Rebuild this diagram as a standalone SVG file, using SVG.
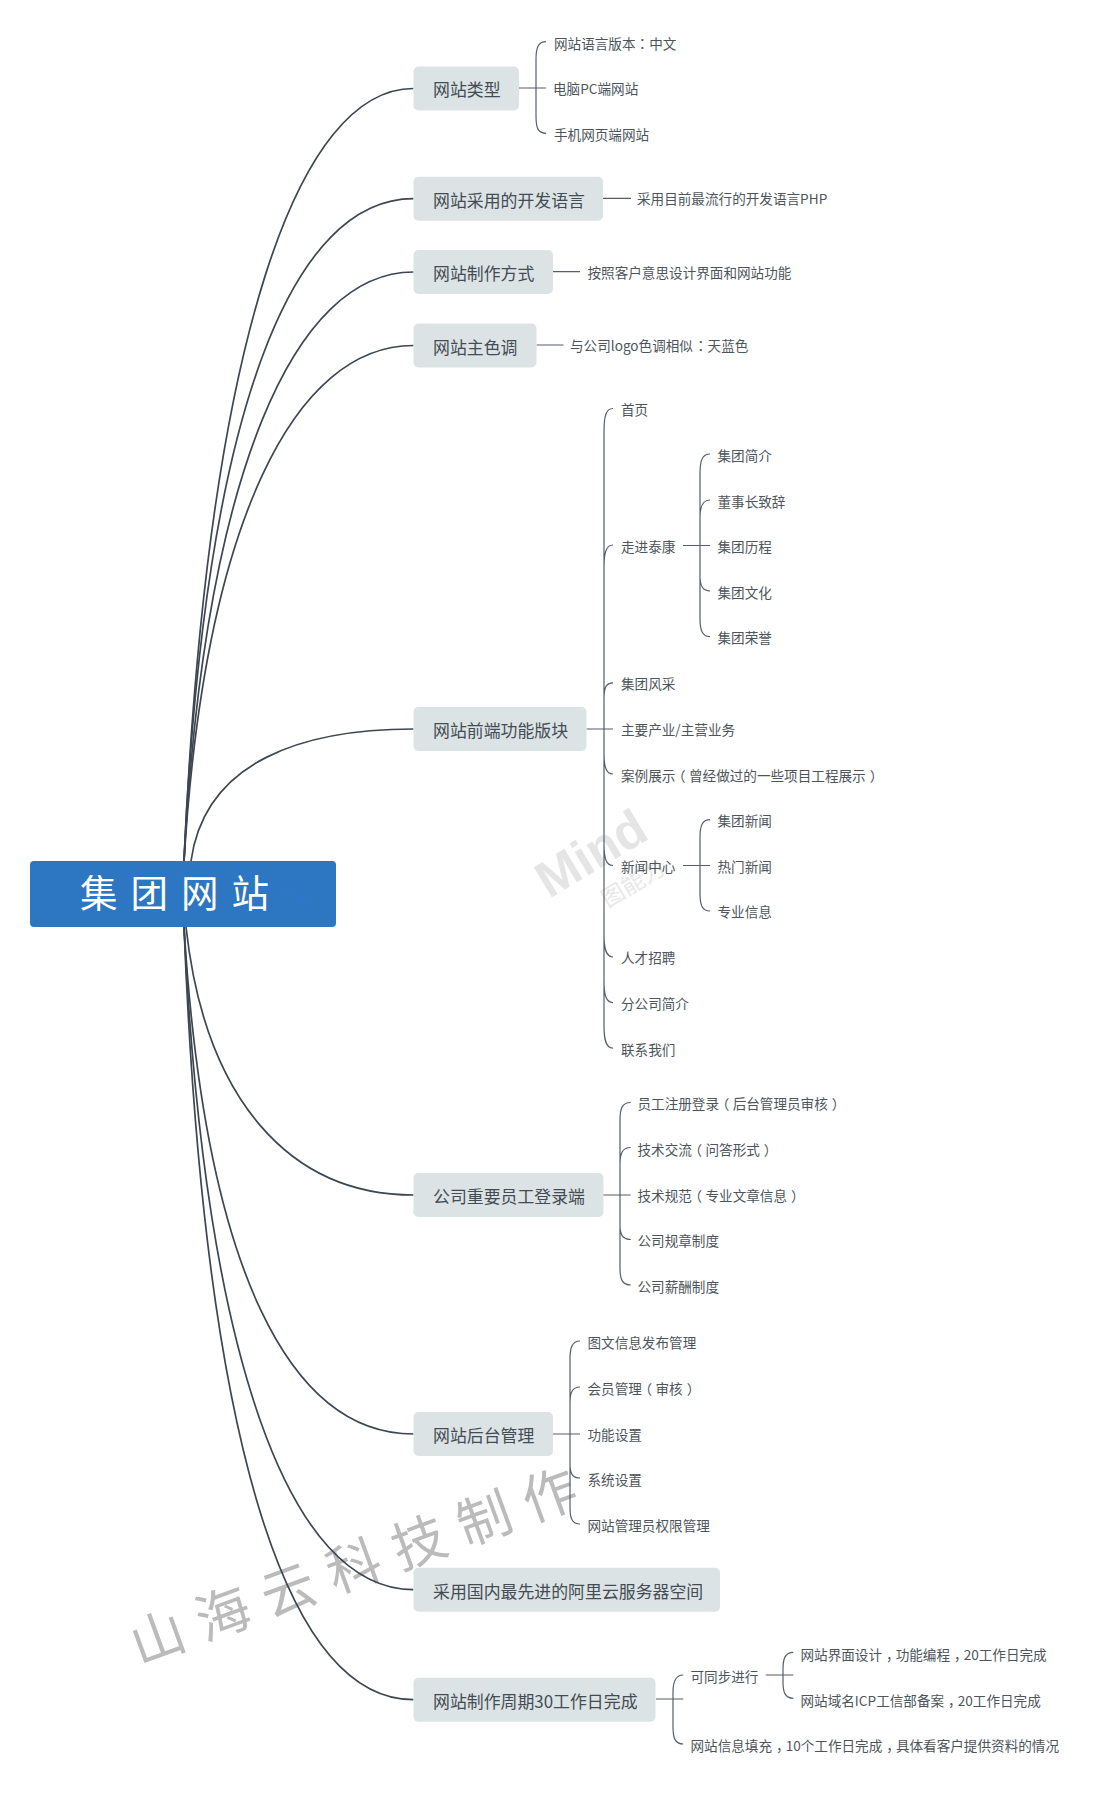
<svg xmlns="http://www.w3.org/2000/svg" width="1100" height="1799" viewBox="0 0 1100 1799">
<style>
text{font-family:"Noto Sans CJK SC","Noto Sans",sans-serif;}
.n{fill:#dce3e5;}
.nt{font-size:16.9px;fill:#434c54;}
.ct{font-size:13.6px;fill:#4d555c;}
.p{font-family:"Noto Sans CJK TC","Noto Sans",sans-serif;}
.m{fill:none;stroke:#3d4651;stroke-width:1.7;}
.b{fill:none;stroke:#565f68;stroke-width:1.2;}
</style>
<rect width="1100" height="1799" fill="#fff"/>
<g id="watermarks">
<text x="549" y="899" transform="rotate(-31 549 899)" style="font-family:'Liberation Sans',sans-serif;font-weight:bold;font-size:51px;fill:#e5e5e5">Mind</text>
<text x="607.500" y="908" transform="rotate(-31 607.500 908)" style="font-size:23px;fill:#e8e8e8">图能力</text>
<text x="139" y="1665" transform="rotate(-20 139 1665)" style="font-size:54px;letter-spacing:15.500px;fill:#bbbbbb">山海云科技制作</text>
</g>
<g id="connectors">
<path class="m" d="M184 861C208 330 300 88.500 413.500 88.500"/>
<path class="m" d="M184 861C205 400 295 198.700 413.500 198.700"/>
<path class="m" d="M184 861C205 470 295 272 413.500 272"/>
<path class="m" d="M184 861C205 520 295 345.500 413.500 345.500"/>
<path class="m" d="M191 861C205 760 305 729 413.500 729"/>
<path class="m" d="M186 927C205 1100 290 1195 413.500 1195"/>
<path class="m" d="M184 927C205 1270 290 1434 413.500 1434"/>
<path class="m" d="M184 927C205 1360 290 1589.700 413.500 1589.700"/>
<path class="m" d="M184 927C205 1458 290 1699.700 413.500 1699.700"/>
<path class="b" d="M519 88H546M536 88V60C536 48 538 41.700 546 41.700M536 88V116C536 128 538 133.300 546 133.300"/>
<path class="b" d="M603 198.300H631M553 271.700H580M536.500 345H563.500"/>
<path class="b" d="M586.500 729H613M604 729V432C604 416 606 408.500 613 408.500M604 729V568C604 553 606 545 613 545M604 729V698C604 688 606 682.800 613 682.800M604 729V753C604 767 606 774 613 774M604 729V844C604 858 606 865.500 613 865.500M604 729V935C604 949 606 957 613 957M604 729V981C604 995 606 1002.600 613 1002.600M604 729V1026C604 1040 606 1048.200 613 1048.200"/>
<path class="b" d="M683 545.500H710M700 545.500V474C700 461 702 454 710 454M700 545.500V517C700 507 702 500 710 500M700 545.500V576C700 585 702 591 710 591M700 545.500V618C700 630 702 636.700 710 636.700"/>
<path class="b" d="M683 865.500H710M700 865.500V838C700 826 702 819.700 710 819.700M700 865.500V893C700 905 702 911 710 911"/>
<path class="b" d="M603 1195H630.700M620 1195V1120C620 1109 622 1102.500 630.700 1102.500M620 1195V1164C620 1154 622 1147.500 630.700 1147.500M620 1195V1225C620 1234 622 1239.500 630.700 1239.500M620 1195V1268C620 1279 622 1285 630.700 1285"/>
<path class="b" d="M553 1434H580M570 1434V1359C570 1348 572 1341 580 1341M570 1434V1403C570 1393 572 1387 580 1387M570 1434V1464C570 1473 572 1478 580 1478M570 1434V1508C570 1518 572 1524 580 1524"/>
<path class="b" d="M656 1699H683.300M673 1699V1692C673 1682 675 1675 683.300 1675M673 1699V1727C673 1738 675 1744 683.300 1744"/>
<path class="b" d="M765.700 1675H793.300M783 1675V1669C783 1659 785 1652.300 793.300 1652.300M783 1675V1682C783 1692 785 1698.300 793.300 1698.300"/>
</g>
<g id="root"><rect x="30" y="861" width="306" height="66" rx="4" fill="#2d76c2"/>
<text x="80" y="907" style="font-size:37.500px;letter-spacing:13px;fill:#fff">集团网站</text>
<path d="M273 895L278 894L286 888L293 894M295 890L301 895L297 899L292 894ZM302 897L307 900L303 904L298 900Z" fill="none" stroke="#2a78d6" stroke-width="1"/></g>
<g id="n1"><rect class="n" x="413.500" y="66.500" width="105.500" height="44" rx="5"/><text class="nt" x="433" y="96">网站类型</text></g>
<g id="n1a"><text class="ct" x="554" y="49">网站语言版本<tspan class="p">：</tspan>中文</text></g>
<g id="n1b"><text class="ct" x="553" y="94">电脑PC端网站</text></g>
<g id="n1c"><text class="ct" x="554" y="140">手机网页端网站</text></g>
<g id="n2"><rect class="n" x="413.500" y="176.700" width="189.500" height="44" rx="5"/><text class="nt" x="433" y="207">网站采用的开发语言</text></g>
<g id="n2a"><text class="ct" x="637" y="204">采用目前最流行的开发语言PHP</text></g>
<g id="n3"><rect class="n" x="413.500" y="250" width="139.500" height="44" rx="5"/><text class="nt" x="433" y="280">网站制作方式</text></g>
<g id="n3a"><text class="ct" x="587.500" y="278">按照客户意思设计界面和网站功能</text></g>
<g id="n4"><rect class="n" x="413.500" y="323.500" width="123" height="44" rx="5"/><text class="nt" x="433" y="353.500">网站主色调</text></g>
<g id="n4a"><text class="ct" x="570" y="351">与公司logo色调相似<tspan class="p" dx="1">：</tspan>天蓝色</text></g>
<g id="n5"><rect class="n" x="413.500" y="707" width="173" height="44" rx="5"/><text class="nt" x="433" y="737">网站前端功能版块</text></g>
<g id="n5a"><text class="ct" x="621" y="415">首页</text></g>
<g id="n5b"><text class="ct" x="621" y="552">走进泰康</text></g>
<g id="n5b1"><text class="ct" x="717.500" y="461">集团简介</text></g>
<g id="n5b2"><text class="ct" x="717.500" y="507">董事长致辞</text></g>
<g id="n5b3"><text class="ct" x="717.500" y="552">集团历程</text></g>
<g id="n5b4"><text class="ct" x="717.500" y="598">集团文化</text></g>
<g id="n5b5"><text class="ct" x="717.500" y="643">集团荣誉</text></g>
<g id="n5c"><text class="ct" x="621" y="689">集团风采</text></g>
<g id="n5d"><text class="ct" x="621" y="735">主要产业/主营业务</text></g>
<g id="n5e"><text class="ct" x="621" y="780.500">案例展示<tspan dx="-3.300">（</tspan><tspan dx="3.300">曾经做过的一些项目工程展示</tspan><tspan dx="4">）</tspan></text></g>
<g id="n5f"><text class="ct" x="621" y="872">新闻中心</text></g>
<g id="n5f1"><text class="ct" x="717.500" y="825.500">集团新闻</text></g>
<g id="n5f2"><text class="ct" x="717.500" y="871.500">热门新闻</text></g>
<g id="n5f3"><text class="ct" x="717.500" y="917">专业信息</text></g>
<g id="n5g"><text class="ct" x="621" y="962.500">人才招聘</text></g>
<g id="n5h"><text class="ct" x="621" y="1008.500">分公司简介</text></g>
<g id="n5i"><text class="ct" x="621" y="1054.500">联系我们</text></g>
<g id="n6"><rect class="n" x="413.500" y="1173" width="190" height="44" rx="5"/><text class="nt" x="433" y="1203">公司重要员工登录端</text></g>
<g id="n6a"><text class="ct" x="637.500" y="1109">员工注册登录<tspan dx="-3.300">（</tspan><tspan dx="3.300">后台管理员审核</tspan><tspan dx="4">）</tspan></text></g>
<g id="n6b"><text class="ct" x="637.500" y="1155">技术交流<tspan dx="-3.300">（</tspan><tspan dx="3.300">问答形式</tspan><tspan dx="4">）</tspan></text></g>
<g id="n6c"><text class="ct" x="637.500" y="1200.500">技术规范<tspan dx="-3.300">（</tspan><tspan dx="3.300">专业文章信息</tspan><tspan dx="4">）</tspan></text></g>
<g id="n6d"><text class="ct" x="637.500" y="1246">公司规章制度</text></g>
<g id="n6e"><text class="ct" x="637.500" y="1292">公司薪酬制度</text></g>
<g id="n7"><rect class="n" x="413.500" y="1412" width="139.500" height="44" rx="5"/><text class="nt" x="433" y="1442">网站后台管理</text></g>
<g id="n7a"><text class="ct" x="587.500" y="1348">图文信息发布管理</text></g>
<g id="n7b"><text class="ct" x="587.500" y="1394">会员管理<tspan dx="-3.300">（</tspan><tspan dx="3.300">审核</tspan><tspan dx="4">）</tspan></text></g>
<g id="n7c"><text class="ct" x="587.500" y="1439.500">功能设置</text></g>
<g id="n7d"><text class="ct" x="587.500" y="1485">系统设置</text></g>
<g id="n7e"><text class="ct" x="587.500" y="1531">网站管理员权限管理</text></g>
<g id="n8"><rect class="n" x="413.500" y="1567.700" width="306.500" height="44" rx="5"/><text class="nt" x="433" y="1598">采用国内最先进的阿里云服务器空间</text></g>
<g id="n9"><rect class="n" x="413.500" y="1677.700" width="242" height="44" rx="5"/><text class="nt" x="433" y="1708">网站制作周期30工作日完成</text></g>
<g id="n9a"><text class="ct" x="690.500" y="1682">可同步进行</text></g>
<g id="n9a1"><text class="ct" x="800.500" y="1660">网站界面设计<tspan dx="4">，</tspan><tspan dx="-4">功能编程</tspan><tspan dx="4">，</tspan><tspan dx="-4">20工作日完成</tspan></text></g>
<g id="n9a2"><text class="ct" x="800.500" y="1705.500">网站域名ICP工信部备案<tspan dx="4">，</tspan><tspan dx="-4">20工作日完成</tspan></text></g>
<g id="n9b"><text class="ct" x="690.500" y="1751">网站信息填充<tspan dx="4">，</tspan><tspan dx="-4">10个工作日完成</tspan><tspan dx="4">，</tspan><tspan dx="-4">具体看客户提供资料的情况</tspan></text></g>
</svg>
